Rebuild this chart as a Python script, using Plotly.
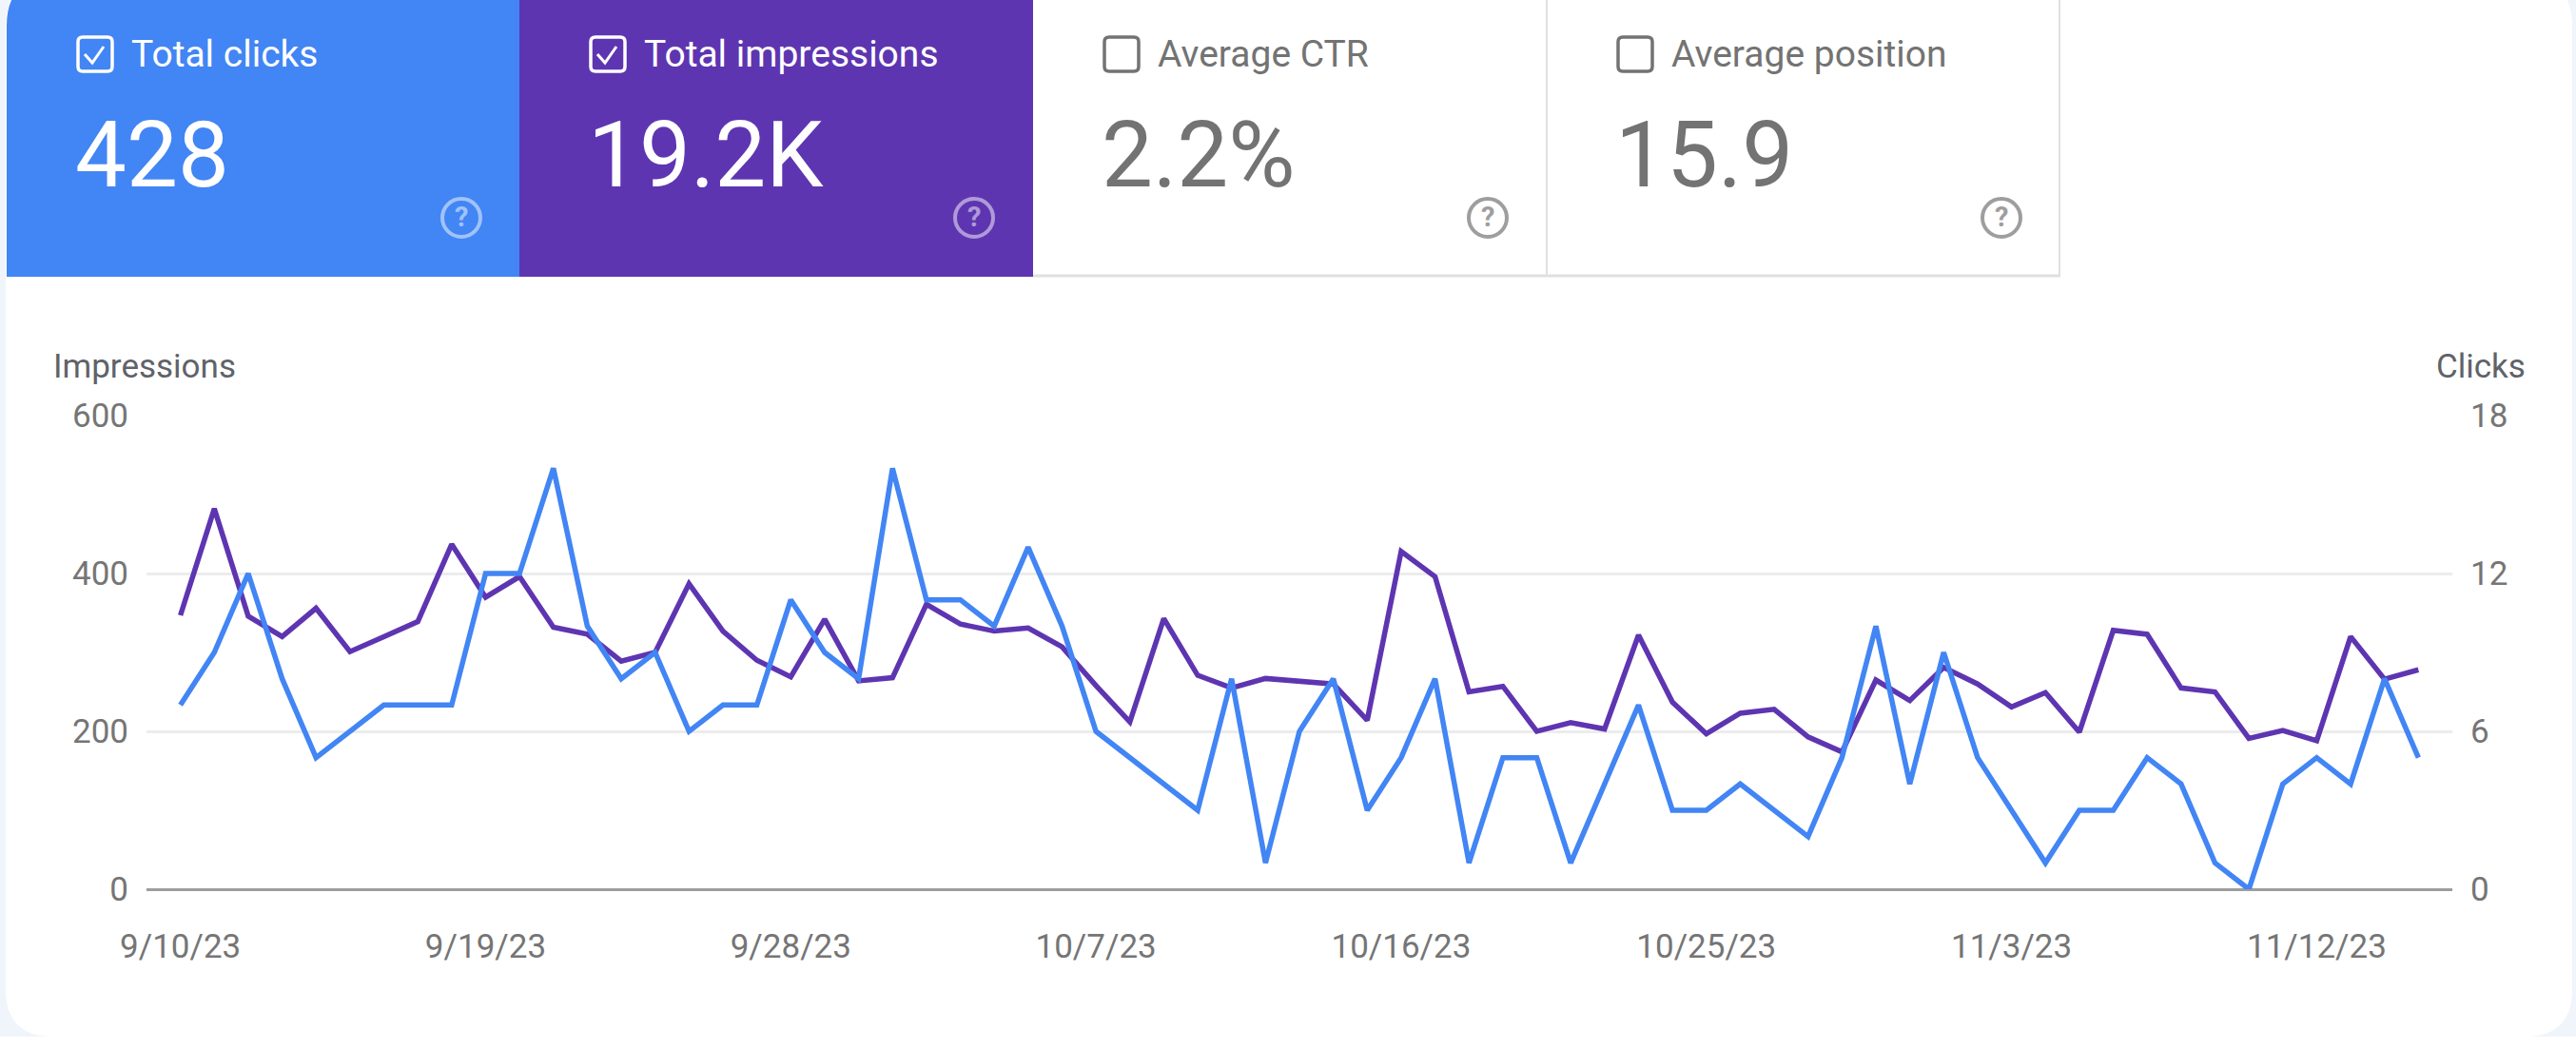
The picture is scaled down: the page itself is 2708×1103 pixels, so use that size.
import pandas as pd
import plotly.graph_objects as go

# ---------------- data ----------------
START_DATE = "2023-09-10"
END_DATE = "2023-11-15"

IMPRESSIONS = [347, 482, 346, 320, 356, 301, 320, 339, 437, 370,
               396, 332, 323, 289, 300, 387, 327, 290, 269, 342,
               264, 268, 361, 336, 327, 331, 307, 258, 212, 343,
               271, 255, 267, 264, 260, 214, 428, 396, 250, 257,
               200, 211, 203, 322, 237, 197, 223, 228, 193, 174,
               265, 239, 281, 260, 231, 249, 199, 328, 323, 255,
               250, 191, 201, 188, 320, 266, 278]

CLICKS = [7, 9, 12, 8, 5, 6, 7, 7, 7, 12,
          12, 16, 10, 8, 9, 6, 7, 7, 11, 9,
          8, 16, 11, 11, 10, 13, 10, 6, 5, 4,
          3, 8, 1, 6, 8, 3, 5, 8, 1, 5,
          5, 1, 4, 7, 3, 3, 4, 3, 2, 5,
          10, 4, 9, 5, 3, 1, 3, 3, 5, 4,
          1, 0, 4, 5, 4, 8, 5]

TICK_DATES = ["2023-09-10", "2023-09-19", "2023-09-28", "2023-10-07",
              "2023-10-16", "2023-10-25", "2023-11-03", "2023-11-12"]
TICK_LABELS = ["9/10/23", "9/19/23", "9/28/23", "10/7/23",
               "10/16/23", "10/25/23", "11/3/23", "11/12/23"]

IMP_TICKS = [0, 200, 400, 600]
CLICK_TICKS = [0, 6, 12, 18]

CARD_LABELS = ["Total clicks", "Total impressions", "Average CTR", "Average position"]
CARD_VALUES = ["428", "19.2K", "2.2%", "15.9"]
CARD_CHECKED = [True, True, False, False]

DATES = pd.date_range(START_DATE, END_DATE, freq="D")

# ---------------- geometry helpers ----------------
W, H = 2708, 1103
L, R, T, B = 154, 130, 437, 168
PW = W - L - R
PH = H - T - B

BLUE = "#4285F4"
PURPLE = "#5E35B1"
GRAY_TXT = "#737373"
FONT = "Roboto"


def fx(px):
    return (px - L) / PW


def fy(py):
    return (H - B - py) / PH


def pt(px, py):
    return f"{fx(px):.6f},{fy(py):.6f}"


def rrect_path(x0, y0, x1, y1, r):
    return ("M " + pt(x0 + r, y0) + " L " + pt(x1 - r, y0) +
            " Q " + pt(x1, y0) + " " + pt(x1, y0 + r) +
            " L " + pt(x1, y1 - r) +
            " Q " + pt(x1, y1) + " " + pt(x1 - r, y1) +
            " L " + pt(x0 + r, y1) +
            " Q " + pt(x0, y1) + " " + pt(x0, y1 - r) +
            " L " + pt(x0, y0 + r) +
            " Q " + pt(x0, y0) + " " + pt(x0 + r, y0) + " Z")


shapes = []
annotations = []

# page background and white panel
shapes.append(dict(type="rect", xref="paper", yref="paper", layer="below",
                   x0=fx(0), x1=fx(W), y0=fy(0), y1=fy(1090),
                   fillcolor="#F0F4FB", line=dict(width=0)))
shapes.append(dict(type="path", xref="paper", yref="paper", layer="below",
                   path=rrect_path(6, -23, 2704, 1090, 50),
                   fillcolor="#FFFFFF", line=dict(width=0)))

# cards
CARD_LEFTS = [7, 546, 1086, 1626]
CARD_BOTTOM = 291

# blue card (rounded top-left following the panel)
shapes.append(dict(type="path", xref="paper", yref="paper", layer="below",
                   path=("M " + pt(7, CARD_BOTTOM) + " L " + pt(7, 27) +
                         " Q " + pt(7, -23) + " " + pt(57, -23) +
                         " L " + pt(546, -23) + " L " + pt(546, CARD_BOTTOM) + " Z"),
                   fillcolor=BLUE, line=dict(width=0)))
shapes.append(dict(type="rect", xref="paper", yref="paper", layer="below",
                   x0=fx(546), x1=fx(1086), y0=fy(CARD_BOTTOM), y1=fy(-23),
                   fillcolor=PURPLE, line=dict(width=0)))
# borders of white cards
BORDER = "#E0E0E0"
for xx in (1626, 2165):
    shapes.append(dict(type="line", xref="paper", yref="paper",
                       x0=fx(xx), x1=fx(xx), y0=fy(-5), y1=fy(290),
                       line=dict(color=BORDER, width=2)))
shapes.append(dict(type="line", xref="paper", yref="paper",
                   x0=fx(1086), x1=fx(2166), y0=fy(290), y1=fy(290),
                   line=dict(color=BORDER, width=3)))

for i, cl in enumerate(CARD_LEFTS):
    colored = i < 2
    txt_col = "#FFFFFF" if colored else GRAY_TXT
    icon_col = "rgba(255,255,255,0.5)" if colored else "#9E9E9E"
    # checkbox
    shapes.append(dict(type="path", xref="paper", yref="paper",
                       path=rrect_path(cl + 75, 39, cl + 111, 75, 5),
                       line=dict(color=txt_col, width=3.5)))
    if CARD_CHECKED[i]:
        shapes.append(dict(type="path", xref="paper", yref="paper",
                           path="M " + pt(cl + 82, 57) + " L " + pt(cl + 90, 66) +
                           " L " + pt(cl + 102, 49),
                           line=dict(color=txt_col, width=3)))
    # help icon
    cx, cy, rr = cl + 478, 229, 20
    shapes.append(dict(type="circle", xref="paper", yref="paper",
                       x0=fx(cx - rr), x1=fx(cx + rr), y0=fy(cy + rr), y1=fy(cy - rr),
                       line=dict(color=icon_col, width=4)))
    annotations.append(dict(xref="paper", yref="paper", x=fx(cx), y=fy(cy - 1),
                            text="<b>?</b>", showarrow=False, xanchor="center", yanchor="middle",
                            font=dict(family=FONT, size=29, color=icon_col)))
    # label
    annotations.append(dict(xref="paper", yref="paper", x=fx(cl + 129), y=fy(57),
                            text=CARD_LABELS[i], showarrow=False,
                            xanchor="left", yanchor="middle",
                            font=dict(family=FONT, size=39, color=txt_col)))
    # value
    annotations.append(dict(xref="paper", yref="paper", x=fx(cl + 70), y=fy(163),
                            text=CARD_VALUES[i], showarrow=False,
                            xanchor="left", yanchor="middle",
                            font=dict(family=FONT, size=96, color=txt_col)))

# axis titles
annotations.append(dict(xref="paper", yref="paper", x=fx(54), y=fy(385),
                        text="Impressions", showarrow=False,
                        xanchor="left", yanchor="middle",
                        font=dict(family=FONT, size=35, color="#5F6368")))
annotations.append(dict(xref="paper", yref="paper", x=fx(2657), y=fy(385),
                        text="Clicks", showarrow=False,
                        xanchor="right", yanchor="middle",
                        font=dict(family=FONT, size=35, color="#5F6368")))

# ---------------- figure ----------------
fig = go.Figure()
fig.add_trace(go.Scatter(x=DATES, y=IMPRESSIONS, mode="lines", name="Impressions",
                         line=dict(color=PURPLE, width=5.5), yaxis="y"))
fig.add_trace(go.Scatter(x=DATES, y=CLICKS, mode="lines", name="Clicks",
                         line=dict(color=BLUE, width=5.5), yaxis="y2"))

tickfont = dict(family=FONT, size=35, color="#757575")

fig.update_layout(
    width=W, height=H,
    margin=dict(l=L, r=R, t=T, b=B, pad=0),
    paper_bgcolor="#FFFFFF",
    plot_bgcolor="rgba(0,0,0,0)",
    showlegend=False,
    hovermode=False,
    font=dict(family=FONT),
    xaxis=dict(type="date", range=["2023-09-09", "2023-11-16"],
               tickvals=TICK_DATES, ticktext=TICK_LABELS,
               showgrid=False, zeroline=False, showline=False, ticks="",
               tickfont=tickfont, ticklabelstandoff=36, fixedrange=True),
    yaxis=dict(range=[0, 600], tickvals=IMP_TICKS,
               showgrid=True, gridcolor="#ECECEC", gridwidth=3,
               zeroline=True, zerolinecolor="#9E9E9E", zerolinewidth=3,
               showline=False, ticks="", tickfont=tickfont,
               ticklabelstandoff=18, fixedrange=True),
    yaxis2=dict(range=[0, 18], tickvals=CLICK_TICKS, overlaying="y", side="right",
                showgrid=False, zeroline=False, showline=False, ticks="",
                tickfont=tickfont, ticklabelstandoff=18, fixedrange=True),
    shapes=shapes,
    annotations=annotations,
)

fig.write_html("out.html", config={"displayModeBar": False},
               post_script="document.body.style.margin='0';document.body.style.overflow='hidden';")
